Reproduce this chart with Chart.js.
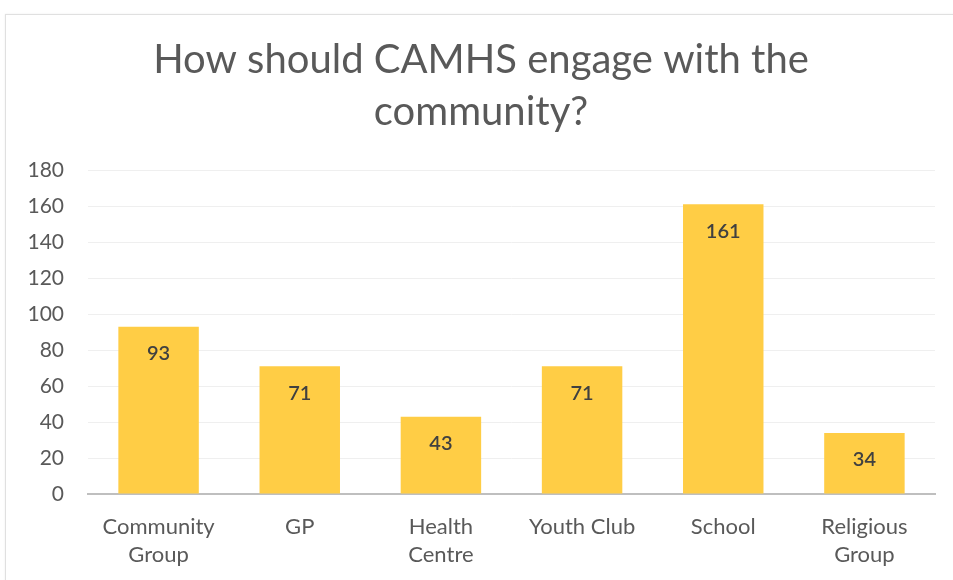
<!DOCTYPE html>
<html>
<head>
<meta charset="utf-8">
<script src="https://cdn.jsdelivr.net/npm/chart.js@4.4.0/dist/chart.umd.min.js"></script>
<style>
  body { margin: 0; background: #fff; overflow: hidden; }
  #wrap { position: relative; width: 953px; height: 580px; overflow: hidden; }
  #frame { position: absolute; left: 5px; top: 14px; width: 1000px; height: 600px; border: 1px solid #e0e0e0; box-shadow: 0 0 2px #eee; }
  canvas { position: absolute; left: 0; top: 0; }
</style>
</head>
<body>
<div id="wrap">
  <div id="frame"></div>
  <canvas id="graphique" width="953" height="600"></canvas>
</div>
<script>
// donnees
var categories = [['Community', 'Group'], 'GP', ['Health', 'Centre'], 'Youth Club', 'School', ['Religious', 'Group']];
var reponses = [93, 71, 43, 71, 161, 34];
var yTicks = [0, 20, 40, 60, 80, 100, 120, 140, 160, 180];

var police = 'Lato, "Open Sans", sans-serif';

// etiquettes dans le haut des barres
var etiquettes = {
  id: 'etiquettes',
  afterDatasetsDraw: function(chart) {
    var ctx = chart.ctx;
    var meta = chart.getDatasetMeta(0);
    ctx.save();
    ctx.fillStyle = '#404040';
    ctx.font = '600 20px ' + police;
    ctx.textAlign = 'center';
    ctx.textBaseline = 'middle';
    meta.data.forEach(function(bar, i) {
      ctx.fillText(chart.data.datasets[0].data[i], bar.x, bar.y + 27);
    });
    ctx.restore();
  }
};

var data = {
  labels: categories,
  datasets: [{
    data: reponses,
    backgroundColor: '#FFCD45',
    borderWidth: 0,
    barPercentage: 0.57,
    categoryPercentage: 1.0
  }]
};

var options = {
  responsive: false,
  animation: false,
  layout: { padding: { left: 27, right: 18, top: 0, bottom: 12 } },
  plugins: {
    legend: { display: false },
    tooltip: { enabled: false },
    title: {
      display: true,
      text: ['How should CAMHS engage with the', 'community?'],
      color: '#595959',
      font: { family: police, size: 40, weight: 'normal', lineHeight: 1.3 },
      padding: { top: 34, bottom: 32 }
    }
  },
  scales: {
    x: {
      grid: { display: false, drawTicks: false },
      border: { display: true, color: '#bfbfbf', width: 2 },
      ticks: { color: '#595959', font: { family: police, size: 22, lineHeight: 1.27 }, padding: 19, maxRotation: 0 }
    },
    y: {
      min: 0,
      max: 180,
      afterBuildTicks: function(axis) {
        axis.ticks = yTicks.map(function(v) { return { value: v }; });
      },
      afterFit: function(axis) {
        axis.width = 61;
      },
      grid: { color: '#efefef', lineWidth: 1, drawTicks: false },
      border: { display: false },
      ticks: { color: '#595959', font: { family: police, size: 21 }, padding: 24 }
    }
  }
};

var ctx1 = document.getElementById('graphique').getContext('2d');
var monGraphique = new Chart(ctx1, {
  type: 'bar',
  data: data,
  options: options,
  plugins: [etiquettes]
});
</script>
</body>
</html>
